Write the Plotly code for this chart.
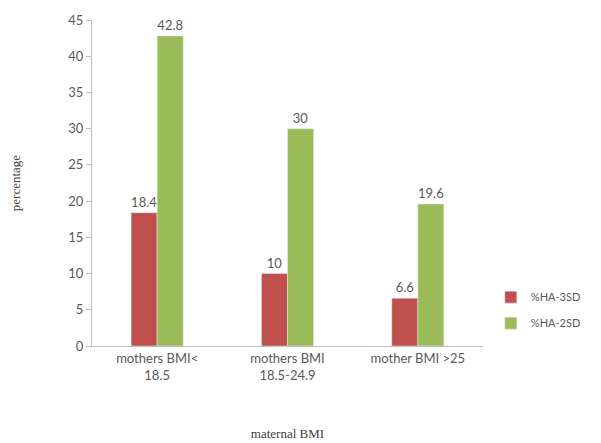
import plotly.graph_objects as go

categories = ["mothers BMI<<br>18.5", "mothers BMI<br>18.5-24.9", "mother BMI >25"]
series_names = ["%HA-3SD", "%HA-2SD"]
ha3sd = [18.4, 10, 6.6]
ha2sd = [42.8, 30, 19.6]
y_ticks = [0, 5, 10, 15, 20, 25, 30, 35, 40, 45]

colors = ["#C0504D", "#9BBB59"]
fig = go.Figure()
for name, vals, c in zip(series_names, [ha3sd, ha2sd], colors):
    fig.add_trace(go.Bar(
        x=categories, y=vals, name=name, marker_color=c, legendgroup=name,
        text=[f"{v:g}" for v in vals], textposition="outside",
        textfont=dict(family="Lato", size=13, color="#595959"),
        cliponaxis=False,
    ))

fig.update_layout(
    width=593, height=435,
    margin=dict(l=84, r=118, t=12, b=97, autoexpand=False),
    paper_bgcolor="white", plot_bgcolor="white",
    barmode="group", bargap=0.6, bargroupgap=0,
    font=dict(family="Lato", size=12, color="#595959"),
    legend=dict(x=1.02, y=0.11, xanchor="left", yanchor="middle",
                font=dict(family="Lato", size=11, color="#595959"),
                itemwidth=30, tracegroupgap=7),
    showlegend=True,
)
fig.update_yaxes(
    range=[0, 45], tickvals=y_ticks, showgrid=False, automargin=False,
    showline=True, linecolor="#BFBFBF", linewidth=1,
    ticks="outside", ticklen=5, tickcolor="#BFBFBF",
    tickfont=dict(family="Lato", size=13, color="#595959"),
    title=dict(text="percentage", font=dict(family="Liberation Serif", size=13, color="#404040"), standoff=48),
    zeroline=False,
)
fig.update_xaxes(
    showline=True, linecolor="#BFBFBF", linewidth=1, showgrid=False, automargin=False,
    tickfont=dict(family="Lato", size=13, color="#595959"),
    title=dict(text="maternal BMI", font=dict(family="Liberation Serif", size=13, color="#404040"), standoff=47),
)
fig.write_html("out.html")
